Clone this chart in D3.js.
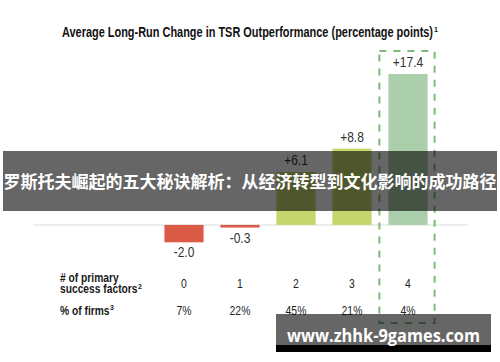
<!DOCTYPE html>
<html>
<head>
<meta charset="utf-8">
<script src="https://cdn.jsdelivr.net/npm/d3@7"></script>
<style>
  body { margin: 0; background: #fff; }
  svg { display: block; }
</style>
</head>
<body>
<svg id="chart" width="500" height="362"></svg>
<script>
// chart data
const factors = ["0", "1", "2", "3", "4"]
const values = [-2.0, -0.3, 6.1, 8.8, 17.4]
const valueLabels = ["-2.0", "-0.3", "+6.1", "+8.8", "+17.4"]
const firmShares = ["7%", "22%", "45%", "21%", "4%"]
const barColors = ["#d95b45", "#d95b45", "#c6d66f", "#c6d66f", "#abcfaa"]

const TITLE = "Average Long-Run Change in TSR Outperformance (percentage points)"
const BANNER = "罗斯托夫崛起的五大秘诀解析：从经济转型到文化影响的成功路径"
const SITE = "www.zhhk-9games.com"

const SANS = "'Liberation Sans', Arial, sans-serif"

// squeeze text horizontally so it looks like a condensed face
function condense(sel, k) {
    sel.each(function () {
        let w = this.getComputedTextLength()
        d3.select(this)
            .attr("textLength", w * k)
            .attr("lengthAdjust", "spacingAndGlyphs")
    })
}

// bold condensed label with a small superscript after it
function supLabel(svg, xPos, yPos, txt, sup, size, k) {
    let t = svg.append("text")
        .attr("x", xPos).attr("y", yPos)
        .attr("font-family", SANS)
        .attr("font-weight", "700")
        .attr("font-size", size)
        .attr("fill", "#1a1a1a")
        .text(txt)
    condense(t, k)
    if (sup) {
        let w = +t.attr("textLength")
        svg.append("text")
            .attr("x", xPos + w + 0.5).attr("y", yPos - size * 0.35)
            .attr("font-family", SANS)
            .attr("font-weight", "700")
            .attr("font-size", size * 0.55)
            .attr("fill", "#1a1a1a")
            .text(sup)
    }
}

function drawChart() {
    const svg = d3.select("#chart")

    let x = d3.scaleBand()
        .domain(factors)
        .range([156, 436])
        .paddingInner(0.3)
        .paddingOuter(0.15)
    let y = d3.scaleLinear()
        .domain([-2.0, 17.4])
        .range([242.3, 74])

    // title
    let title = svg.append("text")
        .attr("x", 62)
        .attr("y", 37)
        .attr("font-family", SANS)
        .attr("font-weight", "700")
        .attr("font-size", 14)
        .attr("fill", "#111")
        .text(TITLE)
        .attr("textLength", 371)
        .attr("lengthAdjust", "spacingAndGlyphs")
    svg.append("text")
        .attr("x", 434).attr("y", 32)
        .attr("font-family", SANS)
        .attr("font-weight", "700")
        .attr("font-size", 7)
        .attr("fill", "#111")
        .text("1")

    // zero line
    svg.append("line")
        .attr("x1", 33).attr("x2", 468)
        .attr("y1", y(0)).attr("y2", y(0))
        .attr("stroke", "#dcdcdc")
        .attr("stroke-width", 1)

    // bars
    svg.selectAll(".bar")
        .data(values)
        .enter().append("rect")
        .attr("class", "bar")
        .attr("x", (d, i) => x(factors[i]))
        .attr("width", x.bandwidth())
        .attr("y", d => y(Math.max(0, d)))
        .attr("height", d => Math.abs(y(d) - y(0)))
        .attr("fill", (d, i) => barColors[i])

    // value labels
    let vlabels = svg.selectAll(".vlabel")
        .data(values)
        .enter().append("text")
        .attr("class", "vlabel")
        .attr("x", (d, i) => x(factors[i]) + x.bandwidth() / 2)
        .attr("y", d => d >= 0 ? y(d) - 7 : y(d) + 15)
        .attr("text-anchor", "middle")
        .attr("font-family", SANS)
        .attr("font-size", 15)
        .attr("fill", "#333")
        .text((d, i) => valueLabels[i])
    condense(vlabels, 0.8)

    // dashed highlight around the last column
    const last = factors[factors.length - 1]
    svg.append("rect")
        .attr("x", x(last) - 9)
        .attr("y", 51)
        .attr("width", x.bandwidth() + 16)
        .attr("height", 272)
        .attr("fill", "none")
        .attr("stroke", "#7dbb7b")
        .attr("stroke-width", 2)
        .attr("stroke-dasharray", "7,7")

    // table rows
    supLabel(svg, 60, 281.5, "# of primary", null, 12.5, 0.82)
    supLabel(svg, 60, 293, "success factors", "2", 12.5, 0.82)
    supLabel(svg, 60, 314.5, "% of firms", "3", 12.5, 0.82)

    let factorTexts = svg.selectAll(".factor")
        .data(factors)
        .enter().append("text")
        .attr("class", "factor")
        .attr("x", d => x(d) + x.bandwidth() / 2)
        .attr("y", 288)
        .attr("text-anchor", "middle")
        .attr("font-family", SANS)
        .attr("font-size", 13)
        .attr("fill", "#222")
        .text(d => d)
    condense(factorTexts, 0.8)

    let shareTexts = svg.selectAll(".share")
        .data(firmShares)
        .enter().append("text")
        .attr("class", "share")
        .attr("x", (d, i) => x(factors[i]) + x.bandwidth() / 2)
        .attr("y", 314.5)
        .attr("text-anchor", "middle")
        .attr("font-family", SANS)
        .attr("font-size", 13)
        .attr("fill", "#222")
        .text(d => d)
    condense(shareTexts, 0.8)

    // banner overlay
    svg.append("rect")
        .attr("x", 3).attr("y", 151)
        .attr("width", 494).attr("height", 60)
        .attr("fill", "rgba(0,0,0,0.6)")
    svg.append("text")
        .attr("x", 250).attr("y", 188)
        .attr("text-anchor", "middle")
        .attr("font-family", "'Noto Sans CJK SC', sans-serif")
        .attr("font-weight", "700")
        .attr("font-size", 17)
        .attr("fill", "#fff")
        .text(BANNER)

    // site watermark
    svg.append("rect")
        .attr("x", 276).attr("y", 314)
        .attr("width", 215).attr("height", 31)
        .attr("fill", "rgba(0,0,0,0.6)")
    svg.append("rect")
        .attr("x", 276).attr("y", 345)
        .attr("width", 215).attr("height", 7)
        .attr("fill", "#000")
    svg.append("text")
        .attr("x", 287).attr("y", 342)
        .attr("font-family", "'Open Sans', sans-serif")
        .attr("font-weight", "700")
        .attr("font-size", 18)
        .attr("textLength", 193)
        .attr("lengthAdjust", "spacingAndGlyphs")
        .attr("fill", "#fff")
        .text(SITE)
}

drawChart()
</script>
</body>
</html>
